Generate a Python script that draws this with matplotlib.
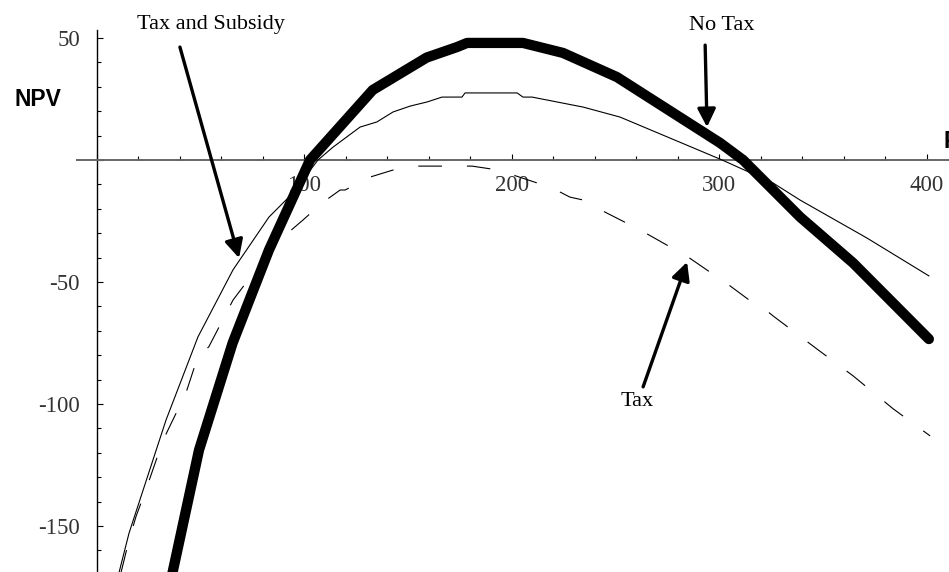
import numpy as np
import matplotlib
matplotlib.use('Agg')
import matplotlib.pyplot as plt
from matplotlib.ticker import FixedLocator

out_path = 'out.png'

# No Tax (thick curve)
notax_x = [34.0, 36.6, 49.3, 65.5, 83.0, 102.8, 133.0, 159.0, 173.6, 178.5,
           205.4, 224.7, 250.7, 300.4, 311.5, 339.0, 364.5, 401.0]
notax_y = [-179.0, -168.9, -118.9, -75.0, -36.9, 0.0, 28.7, 42.0, 46.3, 48.0,
           48.0, 43.9, 34.0, 7.0, 0.0, -23.4, -42.2, -73.4]

# Tax and Subsidy (thin solid curve)
sub_x = [9.0, 15.6, 33.4, 48.8, 65.7, 83.0, 94.6, 106.6, 113.9, 126.9, 135.0,
         142.8, 151.0, 159.2, 166.4, 176.0, 177.5, 202.6, 205.4, 209.8, 234.4,
         252.2, 301.4, 325.9, 338.9, 371.2, 401.0]
sub_y = [-175.0, -152.9, -106.6, -72.5, -45.0, -23.4, -13.5, 0.0, 5.3, 13.5, 15.6,
         19.7, 22.1, 23.8, 25.8, 25.8, 27.5, 27.5, 25.8, 25.8, 21.7,
         17.6, 0.0, -9.4, -16.4, -32.0, -47.5]

# Tax (dashed curve)
tax_x = [10.0, 15.6, 19.0, 23.8, 32.0, 43.0, 48.7, 54.0, 65.7, 77.7, 89.8, 99.4,
         108.6, 117.3, 119.7, 131.7, 142.8, 154.9, 180.9, 193.4, 212.2, 218.4,
         228.0, 234.4, 240.2, 261.9, 285.0, 305.2, 316.3, 318.2, 325.9, 347.1,
         364.5, 383.8, 401.6]
tax_y = [-175.0, -155.7, -146.0, -135.0, -114.8, -95.5, -80.7, -76.6, -57.4, -43.9,
         -31.6, -24.6, -17.6, -12.3, -12.3, -7.0, -4.1, -2.5, -2.5, -4.1, -9.4,
         -11.0, -15.2, -16.4, -19.3, -28.7, -39.8, -51.6, -58.6, -58.6, -63.9,
         -77.5, -88.5, -102.0, -113.1]

x_ticks = [100, 200, 300, 400]
y_ticks = [50, -50, -100, -150]
x_minor = [v for v in range(20, 401, 20) if v % 100 != 0]
y_minor = [v for v in range(-160, 51, 10) if v % 50 != 0]


def make_plot(out_path=None):
    plt.rcParams['lines.scale_dashes'] = False
    fig = plt.figure(figsize=(9.49, 5.72), dpi=100)
    ax = fig.add_axes([0, 0, 1, 1])
    ax.set_xlim(-46.6, 410.7)
    ax.set_ylim(-168.9, 65.6)

    ax.plot(sub_x, sub_y, color='k', lw=0.8, zorder=3)
    ax.plot(tax_x, tax_y, color='k', lw=0.8, linestyle=(0, (17, 18)), zorder=3)
    ax.plot(notax_x, notax_y, color='k', lw=7.4, solid_capstyle='round',
            solid_joinstyle='round', zorder=4)

    for s in ['top', 'right']:
        ax.spines[s].set_visible(False)
    ax.spines['left'].set_position(('data', 0))
    ax.spines['bottom'].set_position(('data', 0))
    ax.spines['left'].set_bounds(-168.9, 53.3)
    ax.spines['bottom'].set_bounds(-9.5, 410.7)
    ax.spines['bottom'].set_color('#666666')
    ax.spines['bottom'].set_linewidth(1.4)
    ax.spines['left'].set_linewidth(1.0)

    ax.xaxis.set_major_locator(FixedLocator([0] + x_ticks))
    ax.xaxis.set_minor_locator(FixedLocator(x_minor))
    ax.yaxis.set_major_locator(FixedLocator([0] + y_ticks))
    ax.yaxis.set_minor_locator(FixedLocator(y_minor))
    ax.set_xticklabels([''] + [str(v) for v in x_ticks])
    ax.set_yticklabels([''] + [str(v) for v in y_ticks])
    ax.tick_params(which='both', direction='in', color='k', width=0.8)
    ax.tick_params(which='major', length=4.5)
    ax.tick_params(which='minor', length=3)
    ax.tick_params(axis='x', pad=11)
    ax.tick_params(axis='y', pad=12)
    for lab in ax.get_xticklabels() + ax.get_yticklabels():
        lab.set_fontfamily('Liberation Serif')
        lab.set_fontsize(16.5)
        lab.set_color('#333333')

    ax.text(-28.3, 25.0, 'NPV', fontfamily='Liberation Sans', fontweight='bold',
            fontsize=16.5, ha='center', va='center')
    # x-axis label, cut by the right edge as in the original
    ax.text(407.9, 7.4, 'P', fontfamily='Liberation Sans', fontweight='bold',
            fontsize=16.5, ha='left', va='center')

    serif = dict(fontfamily='Liberation Serif', fontsize=16)
    ax.text(19.4, 55.7, 'Tax and Subsidy', ha='left', va='center', **serif)
    ax.text(301.4, 55.3, 'No Tax', ha='center', va='center', **serif)
    ax.text(260.4, -99.2, 'Tax', ha='center', va='center', **serif)

    arrow = dict(arrowstyle='-|>,head_length=1.1,head_width=0.55', lw=2.4,
                 color='k', shrinkA=0, shrinkB=0)
    ax.annotate('', xy=(68.6, -40.2), xytext=(40.1, 46.3), arrowprops=arrow)
    ax.annotate('', xy=(294.1, 13.5), xytext=(293.2, 47.1), arrowprops=arrow)
    ax.annotate('', xy=(284.5, -41.8), xytext=(263.3, -93.0), arrowprops=arrow)

    if out_path:
        fig.savefig(out_path, dpi=100)
    return fig


if __name__ == '__main__':
    fig = make_plot(out_path)
